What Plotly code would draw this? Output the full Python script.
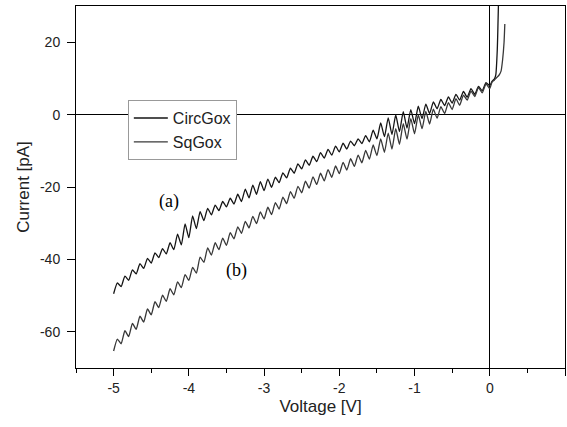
import plotly.graph_objects as go

# Voltage grid (V) for the two sweeps
volt_a = [-5.00, -4.95, -4.90, -4.85, -4.80, -4.75, -4.70, -4.65, -4.60, -4.55,
          -4.50, -4.45, -4.40, -4.35, -4.30, -4.25, -4.20, -4.15, -4.10, -4.05,
          -4.00, -3.95, -3.90, -3.85, -3.80, -3.75, -3.70, -3.65, -3.60, -3.55,
          -3.50, -3.45, -3.40, -3.35, -3.30, -3.25, -3.20, -3.15, -3.10, -3.05,
          -3.00, -2.95, -2.90, -2.85, -2.80, -2.75, -2.70, -2.65, -2.60, -2.55,
          -2.50, -2.45, -2.40, -2.35, -2.30, -2.25, -2.20, -2.15, -2.10, -2.05,
          -2.00, -1.95, -1.90, -1.85, -1.80, -1.75, -1.70, -1.65, -1.60, -1.55,
          -1.50, -1.45, -1.40, -1.35, -1.30, -1.25, -1.20, -1.15, -1.10, -1.05,
          -1.00, -0.95, -0.90, -0.85, -0.80, -0.75, -0.70, -0.65, -0.60, -0.55,
          -0.50, -0.45, -0.40, -0.35, -0.30, -0.25, -0.20, -0.15, -0.10, -0.05,
          0.00, 0.03, 0.06, 0.08, 0.10, 0.12]

# CircGox current (pA) - curve (a)
circ_gox = [-49.5, -46.5, -47.5, -44.6, -45.8, -42.9, -44.0, -41.2, -42.5, -39.7,
            -41.0, -38.2, -39.5, -37.0, -38.5, -35.4, -37.3, -33.0, -36.0, -30.2,
            -34.0, -28.0, -31.5, -26.8, -29.3, -25.9, -27.7, -25.0, -26.5, -24.0,
            -25.5, -23.1, -24.7, -22.0, -24.0, -20.6, -23.0, -19.5, -22.0, -18.5,
            -21.0, -17.8, -20.1, -17.3, -18.8, -16.1, -17.5, -14.8, -16.2, -13.6,
            -15.0, -12.5, -14.0, -11.5, -13.0, -10.5, -12.0, -9.6, -11.2, -8.7,
            -10.3, -7.9, -9.5, -7.3, -8.6, -6.7, -8.0, -5.8, -7.5, -4.3,
            -6.7, -2.3, -6.1, -0.9, -5.5, -0.1, -4.7, 0.8, -3.7, 1.4,
            -2.5, 2.3, -1.1, 2.9, 0.3, 3.5, 1.6, 4.2, 2.5, 4.9,
            3.2, 5.6, 4.0, 6.4, 4.8, 7.2, 5.6, 7.8, 6.6, 8.8,
            8.0, 9.2, 9.8, 11.0, 18.0, 35.0]

volt_b = [-5.00, -4.95, -4.90, -4.85, -4.80, -4.75, -4.70, -4.65, -4.60, -4.55,
          -4.50, -4.45, -4.40, -4.35, -4.30, -4.25, -4.20, -4.15, -4.10, -4.05,
          -4.00, -3.95, -3.90, -3.85, -3.80, -3.75, -3.70, -3.65, -3.60, -3.55,
          -3.50, -3.45, -3.40, -3.35, -3.30, -3.25, -3.20, -3.15, -3.10, -3.05,
          -3.00, -2.95, -2.90, -2.85, -2.80, -2.75, -2.70, -2.65, -2.60, -2.55,
          -2.50, -2.45, -2.40, -2.35, -2.30, -2.25, -2.20, -2.15, -2.10, -2.05,
          -2.00, -1.95, -1.90, -1.85, -1.80, -1.75, -1.70, -1.65, -1.60, -1.55,
          -1.50, -1.45, -1.40, -1.35, -1.30, -1.25, -1.20, -1.15, -1.10, -1.05,
          -1.00, -0.95, -0.90, -0.85, -0.80, -0.75, -0.70, -0.65, -0.60, -0.55,
          -0.50, -0.45, -0.40, -0.35, -0.30, -0.25, -0.20, -0.15, -0.10, -0.05,
          0.00, 0.03, 0.06, 0.09, 0.12, 0.15, 0.17, 0.19, 0.20]

# SqGox current (pA) - curve (b)
sq_gox = [-65.3, -62.0, -63.3, -59.7, -61.3, -57.7, -59.3, -55.7, -57.3, -53.7,
          -55.3, -51.7, -53.3, -49.9, -51.6, -48.1, -49.8, -46.2, -47.8, -44.2,
          -45.8, -42.2, -43.8, -39.4, -40.8, -36.8, -38.8, -35.4, -37.3, -34.1,
          -36.1, -32.6, -34.3, -31.0, -32.8, -29.5, -31.3, -28.1, -30.1, -26.9,
          -28.8, -25.6, -27.6, -24.3, -26.1, -22.8, -24.6, -21.3, -23.1, -19.8,
          -21.6, -18.4, -20.3, -17.2, -19.3, -16.2, -18.3, -15.2, -17.3, -14.2,
          -16.3, -13.2, -15.3, -12.2, -14.3, -11.2, -13.3, -9.9, -12.3, -8.4,
          -11.3, -6.7, -10.4, -5.1, -9.5, -3.9, -8.2, -2.5, -6.8, -1.1,
          -5.3, -0.1, -3.9, 0.9, -2.6, 1.5, -1.0, 2.2, 0.3, 3.3,
          1.4, 4.4, 2.6, 5.4, 4.0, 6.5, 5.0, 7.5, 6.0, 8.5,
          7.2, 9.0, 9.5, 10.2, 10.8, 12.0, 15.0, 20.0, 25.0]

x_tick_vals = [-5, -4, -3, -2, -1, 0, 1]
x_tick_text = ["-5", "-4", "-3", "-2", "-1", "0", "1"]
y_tick_vals = [-60, -40, -20, 0, 20]
y_tick_text = ["-60", "-40", "-20", "0", "20"]

fig = go.Figure()
fig.add_trace(go.Scatter(x=volt_a, y=circ_gox, mode="lines", name="CircGox",
                         line=dict(color="#151515", width=1.3, shape="spline",
                                   smoothing=0.5)))
fig.add_trace(go.Scatter(x=volt_b, y=sq_gox, mode="lines", name="SqGox",
                         line=dict(color="#383838", width=1.3, shape="spline",
                                   smoothing=0.5)))

fig.add_annotation(x=-4.27, y=-24, text="(a)", showarrow=False,
                   font=dict(family="Liberation Serif", size=18, color="black"))
fig.add_annotation(x=-3.37, y=-43, text="(b)", showarrow=False,
                   font=dict(family="Liberation Serif", size=18, color="black"))

axis_common = dict(showline=True, linecolor="black", linewidth=1, mirror=True,
                   showgrid=False, zeroline=True, zerolinecolor="black",
                   zerolinewidth=1, ticks="outside", tickcolor="black",
                   automargin=False,
                   tickfont=dict(family="Liberation Sans", size=14, color="#222"))

fig.update_xaxes(range=[-5.5, 1], tickvals=x_tick_vals, ticktext=x_tick_text,
                 ticklen=7, ticklabelstandoff=0,
                 minor=dict(dtick=0.5, tick0=-5.5, ticks="outside", ticklen=4,
                            tickcolor="black", showgrid=False),
                 title=dict(text="Voltage [V]", standoff=5,
                            font=dict(family="Liberation Sans", size=17, color="#222")),
                 **axis_common)
fig.update_yaxes(range=[-70, 30], tickvals=y_tick_vals, ticktext=y_tick_text,
                 ticklen=8, ticklabelstandoff=4,
                 title=dict(text="Current [pA]", standoff=6,
                            font=dict(family="Liberation Sans", size=17, color="#222")),
                 **axis_common)

fig.update_layout(
    width=567, height=427,
    margin=dict(l=76, r=2, t=6, b=59),
    paper_bgcolor="white", plot_bgcolor="white",
    showlegend=True,
    legend=dict(x=0.106, y=0.74, xanchor="left", yanchor="top",
                bgcolor="white", bordercolor="#999", borderwidth=1,
                font=dict(family="Liberation Sans", size=16, color="#222"),
                tracegroupgap=0, itemwidth=34),
)

fig.write_html("out.html", config={"displayModeBar": False},
               post_script="document.body.style.margin='0';"
                           "document.body.style.overflow='hidden';")
